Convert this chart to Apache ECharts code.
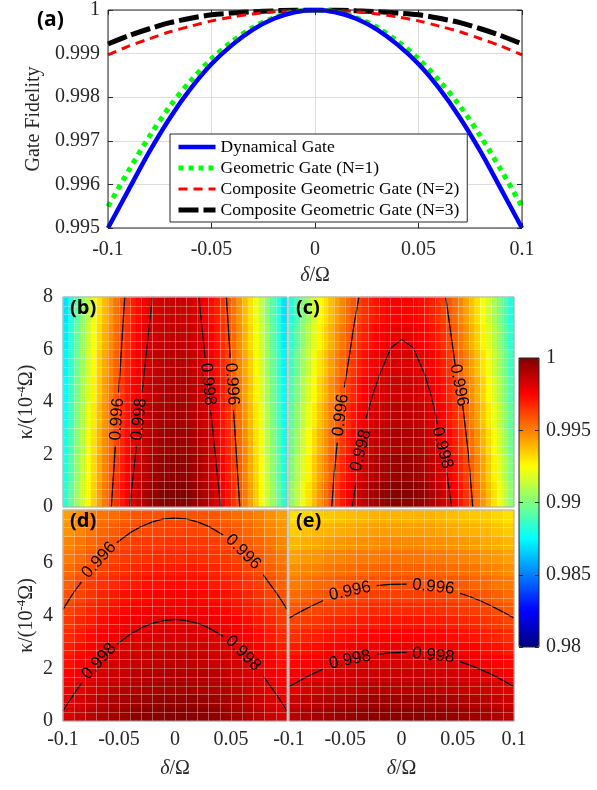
<!DOCTYPE html>
<html>
<head>
<meta charset="utf-8">
<script src="https://cdn.jsdelivr.net/npm/echarts@6/dist/echarts.min.js"></script>
<style>
  html, body { margin: 0; padding: 0; background: #fff; }
  #main { width: 597px; height: 790px; }
</style>
</head>
<body>
<div id="main"></div>
<script>
var SERIF = '"Liberation Serif", "Times New Roman", serif';
var INK = '#262626';

// ---- panel (a): gate fidelity vs detuning ----
var deltaA = [-0.1, -0.09, -0.08, -0.07, -0.06, -0.05, -0.04, -0.03, -0.02, -0.01, 0,
              0.01, 0.02, 0.03, 0.04, 0.05, 0.06, 0.07, 0.08, 0.09, 0.1];
var fidDynamical = [0.995, 0.99588, 0.99675, 0.99753, 0.9982, 0.99876, 0.9992, 0.99955, 0.9998, 0.99995, 1,
                    0.99995, 0.9998, 0.99955, 0.9992, 0.99876, 0.9982, 0.99753, 0.99675, 0.99588, 0.995];
var fidGeometric = [0.99549, 0.99632, 0.9971, 0.9978, 0.99838, 0.99888, 0.99928, 0.9996, 0.99982, 0.99996, 1,
                    0.99996, 0.99982, 0.9996, 0.99928, 0.99888, 0.99838, 0.9978, 0.9971, 0.99632, 0.99549];
var fidComposite2 = [0.99897, 0.99917, 0.99934, 0.9995, 0.99963, 0.99975, 0.99984, 0.99991, 0.99996, 0.99999, 1,
                     0.99999, 0.99996, 0.99991, 0.99984, 0.99975, 0.99963, 0.9995, 0.99934, 0.99917, 0.99897];
var fidComposite3 = [0.99922, 0.99941, 0.99957, 0.99971, 0.99981, 0.99989, 0.99993, 0.99996, 0.99998, 1, 1,
                     1, 0.99998, 0.99996, 0.99993, 0.99989, 0.99981, 0.99971, 0.99957, 0.99941, 0.99922];
var seriesNames = ['Dynamical Gate', 'Geometric Gate (N=1)',
                   'Composite Geometric Gate (N=2)', 'Composite Geometric Gate (N=3)'];

// ---- panels (b)-(e): fidelity maps over (delta, kappa) ----
var deltaFine = [-0.0975, -0.0925, -0.0875, -0.0825, -0.0775, -0.0725, -0.0675, -0.0625, -0.0575, -0.0525,
                 -0.0475, -0.0425, -0.0375, -0.0325, -0.0275, -0.0225, -0.0175, -0.0125, -0.0075, -0.0025,
                 0.0025, 0.0075, 0.0125, 0.0175, 0.0225, 0.0275, 0.0325, 0.0375, 0.0425, 0.0475,
                 0.0525, 0.0575, 0.0625, 0.0675, 0.0725, 0.0775, 0.0825, 0.0875, 0.0925, 0.0975];
var deltaCells = [-0.095, -0.085, -0.075, -0.065, -0.055, -0.045, -0.035, -0.025, -0.015, -0.005,
                  0.005, 0.015, 0.025, 0.035, 0.045, 0.055, 0.065, 0.075, 0.085, 0.095];
var kappaCoarse = [0.5, 1.5, 2.5, 3.5, 4.5, 5.5, 6.5, 7.5];
var kappaFine = [0.25, 0.75, 1.25, 1.75, 2.25, 2.75, 3.25, 3.75, 4.25, 4.75, 5.25, 5.75, 6.25, 6.75, 7.25, 7.75];

// maps are symmetric in delta: each row lists delta >= 0 only (b, c: 0.0025 ... 0.0975; d, e: 0.005 ... 0.095)
var fieldB = [
  [0.9999, 0.99984, 0.99972, 0.99954, 0.99929, 0.99898, 0.99862, 0.99819, 0.9977, 0.99715, 0.99654, 0.99587, 0.99513, 0.99434, 0.99348, 0.99256, 0.99159, 0.99055, 0.98945, 0.98828],
  [0.99971, 0.99965, 0.99953, 0.99935, 0.9991, 0.99879, 0.99843, 0.998, 0.99751, 0.99696, 0.99635, 0.99568, 0.99494, 0.99415, 0.99329, 0.99237, 0.9914, 0.99036, 0.98926, 0.98809],
  [0.99953, 0.99947, 0.99935, 0.99917, 0.99892, 0.99861, 0.99825, 0.99782, 0.99733, 0.99678, 0.99617, 0.9955, 0.99476, 0.99397, 0.99311, 0.99219, 0.99122, 0.99018, 0.98908, 0.98791],
  [0.99934, 0.99928, 0.99916, 0.99898, 0.99873, 0.99842, 0.99806, 0.99763, 0.99714, 0.99659, 0.99598, 0.99531, 0.99457, 0.99378, 0.99292, 0.992, 0.99103, 0.98999, 0.98889, 0.98772],
  [0.99916, 0.9991, 0.99898, 0.9988, 0.99855, 0.99824, 0.99788, 0.99745, 0.99696, 0.99641, 0.9958, 0.99513, 0.99439, 0.9936, 0.99274, 0.99182, 0.99085, 0.98981, 0.98871, 0.98754],
  [0.99897, 0.99891, 0.99879, 0.99861, 0.99836, 0.99805, 0.99769, 0.99726, 0.99677, 0.99622, 0.99561, 0.99494, 0.9942, 0.99341, 0.99255, 0.99163, 0.99066, 0.98962, 0.98852, 0.98735],
  [0.99879, 0.99873, 0.99861, 0.99843, 0.99818, 0.99787, 0.99751, 0.99708, 0.99659, 0.99604, 0.99543, 0.99476, 0.99402, 0.99323, 0.99237, 0.99145, 0.99048, 0.98944, 0.98834, 0.98717],
  [0.9986, 0.99854, 0.99842, 0.99824, 0.99799, 0.99768, 0.99732, 0.99689, 0.9964, 0.99585, 0.99524, 0.99457, 0.99383, 0.99304, 0.99218, 0.99126, 0.99029, 0.98925, 0.98815, 0.98698]
];
var fieldC = [
  [0.99983, 0.99978, 0.99968, 0.99953, 0.99933, 0.99908, 0.99878, 0.99843, 0.99803, 0.99758, 0.99708, 0.99653, 0.99593, 0.99528, 0.99458, 0.99383, 0.99303, 0.99218, 0.99128, 0.99033],
  [0.99952, 0.99947, 0.99937, 0.99922, 0.99902, 0.99877, 0.99847, 0.99812, 0.99772, 0.99727, 0.99677, 0.99622, 0.99562, 0.99497, 0.99427, 0.99352, 0.99272, 0.99187, 0.99097, 0.99002],
  [0.9992, 0.99915, 0.99905, 0.9989, 0.9987, 0.99845, 0.99815, 0.9978, 0.9974, 0.99695, 0.99645, 0.9959, 0.9953, 0.99465, 0.99395, 0.9932, 0.9924, 0.99155, 0.99065, 0.9897],
  [0.99889, 0.99884, 0.99874, 0.99859, 0.99839, 0.99814, 0.99784, 0.99749, 0.99709, 0.99664, 0.99614, 0.99559, 0.99499, 0.99434, 0.99364, 0.99289, 0.99209, 0.99124, 0.99034, 0.98939],
  [0.99857, 0.99852, 0.99842, 0.99827, 0.99807, 0.99782, 0.99752, 0.99717, 0.99677, 0.99632, 0.99582, 0.99527, 0.99467, 0.99402, 0.99332, 0.99257, 0.99177, 0.99092, 0.99002, 0.98907],
  [0.99826, 0.99821, 0.99811, 0.99796, 0.99776, 0.99751, 0.99721, 0.99686, 0.99646, 0.99601, 0.99551, 0.99496, 0.99436, 0.99371, 0.99301, 0.99226, 0.99146, 0.99061, 0.98971, 0.98876],
  [0.99794, 0.99789, 0.99779, 0.99764, 0.99744, 0.99719, 0.99689, 0.99654, 0.99614, 0.99569, 0.99519, 0.99464, 0.99404, 0.99339, 0.99269, 0.99194, 0.99114, 0.99029, 0.98939, 0.98844],
  [0.99763, 0.99758, 0.99748, 0.99733, 0.99713, 0.99688, 0.99658, 0.99623, 0.99583, 0.99538, 0.99488, 0.99433, 0.99373, 0.99308, 0.99238, 0.99163, 0.99083, 0.98998, 0.98908, 0.98813]
];
var fieldD = [
  [0.9999, 0.9998, 0.9998, 0.9997, 0.9995, 0.9993, 0.9991, 0.9989, 0.9986, 0.9983],
  [0.9996, 0.9996, 0.9995, 0.9994, 0.9992, 0.9991, 0.9989, 0.9986, 0.9983, 0.9980],
  [0.9993, 0.9993, 0.9992, 0.9991, 0.9990, 0.9988, 0.9986, 0.9983, 0.9980, 0.9977],
  [0.9991, 0.9990, 0.9990, 0.9989, 0.9987, 0.9985, 0.9983, 0.9981, 0.9978, 0.9975],
  [0.9988, 0.9988, 0.9987, 0.9986, 0.9985, 0.9983, 0.9981, 0.9978, 0.9975, 0.9972],
  [0.9986, 0.9985, 0.9985, 0.9983, 0.9982, 0.9980, 0.9978, 0.9976, 0.9973, 0.9970],
  [0.9983, 0.9983, 0.9982, 0.9981, 0.9980, 0.9978, 0.9976, 0.9973, 0.9970, 0.9967],
  [0.9980, 0.9980, 0.9979, 0.9978, 0.9977, 0.9975, 0.9973, 0.9970, 0.9968, 0.9964],
  [0.9978, 0.9978, 0.9977, 0.9976, 0.9974, 0.9972, 0.9970, 0.9968, 0.9965, 0.9962],
  [0.9975, 0.9975, 0.9974, 0.9973, 0.9972, 0.9970, 0.9968, 0.9965, 0.9962, 0.9959],
  [0.9973, 0.9972, 0.9972, 0.9970, 0.9969, 0.9967, 0.9965, 0.9963, 0.9960, 0.9956],
  [0.9970, 0.9970, 0.9969, 0.9968, 0.9966, 0.9965, 0.9962, 0.9960, 0.9957, 0.9954],
  [0.9967, 0.9967, 0.9966, 0.9965, 0.9964, 0.9962, 0.9960, 0.9957, 0.9954, 0.9951],
  [0.9965, 0.9964, 0.9964, 0.9963, 0.9961, 0.9959, 0.9957, 0.9955, 0.9952, 0.9949],
  [0.9962, 0.9962, 0.9961, 0.9960, 0.9959, 0.9957, 0.9955, 0.9952, 0.9949, 0.9946],
  [0.9960, 0.9959, 0.9959, 0.9958, 0.9956, 0.9954, 0.9952, 0.9950, 0.9947, 0.9944]
];
var fieldE = [
  [0.9998, 0.9998, 0.9997, 0.9997, 0.9996, 0.9995, 0.9994, 0.9993, 0.9991, 0.9989],
  [0.9994, 0.9994, 0.9994, 0.9993, 0.9992, 0.9991, 0.9990, 0.9989, 0.9987, 0.9985],
  [0.9990, 0.9990, 0.9990, 0.9989, 0.9988, 0.9987, 0.9986, 0.9985, 0.9983, 0.9981],
  [0.9986, 0.9986, 0.9986, 0.9985, 0.9984, 0.9983, 0.9982, 0.9981, 0.9979, 0.9977],
  [0.9983, 0.9982, 0.9982, 0.9981, 0.9981, 0.9980, 0.9978, 0.9977, 0.9975, 0.9974],
  [0.9979, 0.9979, 0.9978, 0.9978, 0.9977, 0.9976, 0.9975, 0.9973, 0.9972, 0.9970],
  [0.9975, 0.9975, 0.9974, 0.9974, 0.9973, 0.9972, 0.9971, 0.9969, 0.9968, 0.9966],
  [0.9971, 0.9971, 0.9970, 0.9970, 0.9969, 0.9968, 0.9967, 0.9965, 0.9964, 0.9962],
  [0.9967, 0.9967, 0.9967, 0.9966, 0.9965, 0.9964, 0.9963, 0.9962, 0.9960, 0.9958],
  [0.9963, 0.9963, 0.9963, 0.9962, 0.9961, 0.9960, 0.9959, 0.9958, 0.9956, 0.9954],
  [0.9960, 0.9959, 0.9959, 0.9958, 0.9958, 0.9957, 0.9955, 0.9954, 0.9952, 0.9951],
  [0.9956, 0.9956, 0.9955, 0.9955, 0.9954, 0.9953, 0.9952, 0.9950, 0.9949, 0.9947],
  [0.9952, 0.9952, 0.9951, 0.9951, 0.9950, 0.9949, 0.9948, 0.9946, 0.9945, 0.9943],
  [0.9948, 0.9948, 0.9947, 0.9947, 0.9946, 0.9945, 0.9944, 0.9942, 0.9941, 0.9939],
  [0.9944, 0.9944, 0.9944, 0.9943, 0.9942, 0.9941, 0.9940, 0.9939, 0.9937, 0.9935],
  [0.9940, 0.9940, 0.9940, 0.9939, 0.9938, 0.9937, 0.9936, 0.9935, 0.9933, 0.9931]
];

// contour lines [delta, kappa], broken where the level label sits
var contourB = [
  { level: '0.996', segs: [[[-0.0568, 0], [-0.0533, 2.32]], [[-0.0503, 4.36], [-0.0449, 8]]], at: [-0.0518, 3.34], rot: 86 },
  { level: '0.998', segs: [[[-0.0404, 0], [-0.0345, 2.32]], [[-0.0294, 4.36], [-0.0202, 8]]], at: [-0.0320, 3.34], rot: 84 },
  { level: '0.998', segs: [[[0.0408, 0], [0.0318, 3.68]], [[0.0269, 5.68], [0.0212, 8]]], at: [0.0293, 4.68], rot: -84 },
  { level: '0.996', segs: [[[0.0578, 0], [0.0523, 3.68]], [[0.0493, 5.68], [0.0459, 8]]], at: [0.0508, 4.68], rot: -86 }
];
var contourC = [
  { level: '0.996', segs: [[[-0.0620, 0], [-0.0600, 1.2], [-0.0571, 2.45]],
                           [[-0.0508, 4.56], [-0.0462, 5.8], [-0.0420, 7], [-0.0378, 8]]], at: [-0.0540, 3.5], rot: 83 },
  { level: '0.996', segs: [[[0.0633, 0], [0.0595, 2], [0.0544, 3.87]],
                           [[0.0477, 5.4], [0.0436, 6.7], [0.0393, 8]]], at: [0.0510, 4.64], rot: -79 },
  { level: '0.998', segs: [[[-0.0437, 0], [-0.0404, 0.95]],
                           [[-0.0316, 3.37], [-0.0250, 4.35], [-0.0191, 5.08], [-0.0140, 5.6], [-0.0093, 6.07], [0.0002, 6.38],
                            [0.0105, 6.07], [0.0150, 5.6], [0.0203, 5.08], [0.0260, 4.3], [0.0298, 3.62], [0.0318, 3.15]],
                           [[0.0402, 1.33], [0.0446, 0]]], at: [-0.0362, 2.15], rot: 76 },
  { level: '0.998', segs: [], at: [0.0362, 2.25], rot: -75 }
];
var contourD = [
  { level: '0.996', segs: [[[-0.1, 4.23], [-0.095, 4.57], [-0.09, 4.9], [-0.0836, 5.27]],
                           [[-0.052, 6.76], [-0.04, 7.14], [-0.03, 7.38], [-0.02, 7.55], [-0.01, 7.66], [0, 7.69],
                            [0.01, 7.66], [0.02, 7.55], [0.03, 7.38], [0.043, 7.05]],
                           [[0.0786, 5.55], [0.09, 4.89], [0.095, 4.57], [0.1, 4.23]]], at: [-0.0678, 6.10], rot: 48 },
  { level: '0.996', segs: [], at: [0.0608, 6.41], rot: -45 },
  { level: '0.998', segs: [[[-0.1, 0.38], [-0.095, 0.72], [-0.09, 1.04], [-0.0836, 1.43]],
                           [[-0.052, 2.91], [-0.04, 3.29], [-0.03, 3.53], [-0.02, 3.71], [-0.01, 3.81], [0, 3.85],
                            [0.01, 3.81], [0.02, 3.71], [0.03, 3.53], [0.043, 3.21]],
                           [[0.0786, 1.71], [0.09, 1.04], [0.095, 0.72], [0.1, 0.38]]], at: [-0.0678, 2.26], rot: 48 },
  { level: '0.998', segs: [], at: [0.0608, 2.57], rot: -45 }
];
var contourE = [
  { level: '0.996', segs: [[[-0.1, 3.9], [-0.09, 4.14], [-0.08, 4.36], [-0.0695, 4.57]],
                           [[-0.022, 5.13], [-0.01, 5.18], [0.0046, 5.19]],
                           [[0.052, 4.84], [0.06, 4.73], [0.07, 4.56], [0.08, 4.36], [0.09, 4.14], [0.1, 3.9]]], at: [-0.0458, 4.92], rot: 12 },
  { level: '0.996', segs: [], at: [0.0283, 5.09], rot: -6 },
  { level: '0.998', segs: [[[-0.1, 1.30], [-0.09, 1.54], [-0.08, 1.77], [-0.0695, 1.97]],
                           [[-0.022, 2.53], [-0.01, 2.58], [0.0046, 2.60]],
                           [[0.052, 2.25], [0.06, 2.13], [0.07, 1.96], [0.08, 1.77], [0.09, 1.54], [0.1, 1.30]]], at: [-0.0458, 2.32], rot: 12 },
  { level: '0.998', segs: [], at: [0.0283, 2.49], rot: -6 }
];

var jet = ['#00007f', '#0000ff', '#007fff', '#00ffff', '#7fff7f', '#ffff00', '#ff7f00', '#ff0000', '#7f0000'];

function pairs(xs, ys) {
  return xs.map(function (x, i) { return [x, ys[i]]; });
}

function fieldData(half) {
  var out = [];
  half.forEach(function (row, j) {
    var full = row.slice().reverse().concat(row);
    full.forEach(function (v, i) { out.push([i, j, v]); });
  });
  return out;
}

var tickText = { fontFamily: SERIF, fontSize: 20, color: INK };
var kappaName = {
  rich: {
    n: { fontFamily: SERIF, fontSize: 20, color: INK, lineHeight: 24 },
    s: { fontFamily: SERIF, fontSize: 13, color: INK, lineHeight: 24, verticalAlign: 'top' }
  }
};
var deltaName = {
  rich: {
    i: { fontFamily: SERIF, fontSize: 20, color: INK, fontStyle: 'italic' },
    n: { fontFamily: SERIF, fontSize: 20, color: INK }
  }
};
var inTick = { inside: true, length: 5, lineStyle: { color: INK } };
var noLine = { show: false, onZero: false };

var grids = [
  { left: 108, top: 10, width: 414, height: 218, show: true, borderColor: INK, borderWidth: 1, z: 10 },
  { left: 63, top: 297, width: 224, height: 210 },
  { left: 289, top: 297, width: 225, height: 210 },
  { left: 63, top: 510, width: 224, height: 211 },
  { left: 289, top: 510, width: 225, height: 211 },
  { left: 519, top: 358, width: 20, height: 289, show: true, borderColor: INK, borderWidth: 1, z: 10 }
];
for (var g = 1; g <= 4; g++) {
  grids[g].show = true;
  grids[g].borderColor = '#a8a8a8';
  grids[g].borderWidth = 1;
  grids[g].z = 10;
}

var xAxes = [
  { gridIndex: 0, type: 'value', position: 'bottom', min: -0.1, max: 0.1, interval: 0.05,
    axisLine: noLine, axisTick: inTick,
    axisLabel: Object.assign({ margin: 12 }, tickText),
    splitLine: { lineStyle: { color: '#dcdcdc' } },
    name: '{i|δ}{n|/Ω}', nameLocation: 'middle', nameGap: 38, nameTextStyle: deltaName },
  { gridIndex: 0, type: 'value', position: 'top', min: -0.1, max: 0.1, interval: 0.05,
    axisLine: noLine, axisTick: inTick, axisLabel: { show: false }, splitLine: { show: false } }
];
var yAxes = [
  { gridIndex: 0, type: 'value', position: 'left', min: 0.995, max: 1, interval: 0.001,
    axisLine: noLine, axisTick: inTick,
    axisLabel: Object.assign({ margin: 8 }, tickText),
    splitLine: { lineStyle: { color: '#dcdcdc' } },
    name: 'Gate Fidelity', nameLocation: 'middle', nameGap: 64,
    nameTextStyle: { fontFamily: SERIF, fontSize: 20, color: INK } },
  { gridIndex: 0, type: 'value', position: 'right', min: 0.995, max: 1, interval: 0.001,
    axisLine: noLine, axisTick: inTick, axisLabel: { show: false }, splitLine: { show: false } }
];

var panels = [
  { grid: 1, field: fieldB, cols: deltaFine, rows: kappaCoarse, contours: contourB, tag: '(b)', xLabels: false, yLabels: true },
  { grid: 2, field: fieldC, cols: deltaFine, rows: kappaCoarse, contours: contourC, tag: '(c)', xLabels: false, yLabels: false },
  { grid: 3, field: fieldD, cols: deltaCells, rows: kappaFine, contours: contourD, tag: '(d)', xLabels: true, yLabels: true, hideX: 0.1, hideY: 8 },
  { grid: 4, field: fieldE, cols: deltaCells, rows: kappaFine, contours: contourE, tag: '(e)', xLabels: true, yLabels: false }
];

var meshLine = { color: 'rgba(255,255,255,0.3)', width: 1 };
var series = [];
var heatIdx = [];

var lineStyles = [
  { color: '#0000ff', width: 4.5, type: 'solid' },
  { color: '#00ff00', width: 5, type: [5, 5] },
  { color: '#ff0000', width: 3, type: [9, 6] },
  { color: '#000000', width: 5, type: [20, 5] }
];
[fidDynamical, fidGeometric, fidComposite2, fidComposite3].forEach(function (ys, k) {
  series.push({
    name: seriesNames[k], type: 'line', xAxisIndex: 0, yAxisIndex: 0,
    data: pairs(deltaA, ys), symbol: 'none', smooth: 0.3, silent: true,
    lineStyle: lineStyles[k], itemStyle: { color: lineStyles[k].color }, z: 3 + (3 - k) * 0.1
  });
});

var graphics = [
  { type: 'text', left: 37, top: 10, z: 100, style: { text: '(a)', font: 'bold 21px "Open Sans", sans-serif', fill: '#000' } }
];

panels.forEach(function (p) {
  var cx = xAxes.length, cy = yAxes.length;
  xAxes.push({ gridIndex: p.grid, type: 'category', position: 'top', data: p.cols, show: false });
  yAxes.push({ gridIndex: p.grid, type: 'category', position: 'right', data: p.rows, show: false });
  var vx = xAxes.length, vy = yAxes.length;
  p.vx = vx; p.vy = vy;
  xAxes.push({
    gridIndex: p.grid, type: 'value', position: 'bottom', min: -0.1, max: 0.1, interval: 0.05, z: 5,
    axisLine: noLine, axisTick: { show: false },
    axisLabel: Object.assign({
      show: p.xLabels, margin: 9,
      formatter: function (v) { return (p.hideX !== undefined && Math.abs(v - p.hideX) < 1e-9) ? '' : String(v); }
    }, tickText),
    splitLine: { show: true, lineStyle: meshLine },
    minorTick: { show: false, splitNumber: 5 },
    minorSplitLine: { show: true, lineStyle: meshLine },
    name: p.xLabels ? '{i|δ}{n|/Ω}' : '', nameLocation: 'middle', nameGap: 38, nameTextStyle: deltaName
  });
  yAxes.push({
    gridIndex: p.grid, type: 'value', position: 'left', min: 0, max: 8, interval: 2, z: 5,
    axisLine: noLine, axisTick: { show: false },
    axisLabel: Object.assign({
      show: p.yLabels, margin: 10,
      formatter: function (v) { return (p.hideY !== undefined && v === p.hideY) ? '' : String(v); }
    }, tickText),
    splitLine: { show: true, lineStyle: meshLine },
    minorTick: { show: false, splitNumber: 6 },
    minorSplitLine: { show: true, lineStyle: meshLine },
    name: p.yLabels ? '{n|κ/(10}{s|-4}{n|Ω)}' : '', nameLocation: 'middle', nameGap: 24, nameTextStyle: kappaName
  });

  heatIdx.push(series.length);
  series.push({
    type: 'heatmap', xAxisIndex: cx, yAxisIndex: cy, data: fieldData(p.field),
    progressive: 0, silent: true, emphasis: { disabled: true }, itemStyle: { borderWidth: 0 }, z: 2
  });

  p.contours.forEach(function (c) {
    c.segs.forEach(function (seg) {
      series.push({
        type: 'line', xAxisIndex: vx, yAxisIndex: vy, data: seg, symbol: 'none', silent: true,
        lineStyle: { color: '#000', width: 1.3 }, z: 4
      });
    });
  });

  var gr = grids[p.grid];
  graphics.push({ type: 'text', left: gr.left + 7, top: gr.top + 1, z: 100,
    style: { text: p.tag, font: 'bold 20px "Open Sans", sans-serif', fill: '#000' } });
});

// colour bar axes
xAxes.push({ gridIndex: 5, type: 'value', min: 0, max: 1, show: false });
yAxes.push({
  gridIndex: 5, type: 'value', position: 'right', min: 0.98, max: 1, interval: 0.005, z: 12,
  axisLine: noLine, axisTick: { inside: true, length: 4, lineStyle: { color: INK } },
  axisLabel: Object.assign({ margin: 7, formatter: function (v) { return String(v); } }, tickText),
  splitLine: { show: false }
});
yAxes.push({
  gridIndex: 5, type: 'value', position: 'left', min: 0.98, max: 1, interval: 0.005, z: 12,
  axisLine: noLine, axisTick: { inside: true, length: 4, lineStyle: { color: INK } },
  axisLabel: { show: false }, splitLine: { show: false }
});

var option = {
  animation: false,
  backgroundColor: '#fff',
  grid: grids,
  xAxis: xAxes,
  yAxis: yAxes,
  legend: {
    orient: 'vertical', left: 170, top: 134, itemWidth: 37, itemHeight: 12, itemGap: 1,
    padding: [3, 8, 2, 6], backgroundColor: '#fff', borderColor: INK, borderWidth: 1,
    selectedMode: false, data: seriesNames, z: 20,
    itemStyle: { opacity: 0 },
    lineStyle: { width: 'inherit' },
    textStyle: { fontFamily: SERIF, fontSize: 17.5, color: '#000', lineHeight: 20 }
  },
  visualMap: {
    type: 'continuous', min: 0.98, max: 1, dimension: 2, seriesIndex: heatIdx,
    left: 519, top: 358, itemWidth: 20, itemHeight: 289, padding: 0,
    calculable: false, hoverLink: false, showLabel: false, text: ['', ''],
    inRange: { color: jet }
  },
  graphic: graphics,
  series: series
};

var chart = echarts.init(document.getElementById('main'), null, { renderer: 'canvas' });
chart.setOption(option);

// contour level labels, placed through each panel's value axes
panels.forEach(function (p) {
  p.contours.forEach(function (c) {
    var pt = chart.convertToPixel({ xAxisIndex: p.vx, yAxisIndex: p.vy }, c.at);
    graphics.push({
      type: 'text', x: pt[0], y: pt[1], rotation: c.rot * Math.PI / 180, z: 100, silent: true,
      style: { text: c.level, x: 0, y: 0, align: 'center', verticalAlign: 'middle',
               font: '17px "Liberation Sans", Arial, sans-serif', fill: '#000' }
    });
  });
});
chart.setOption({ graphic: graphics });
</script>
</body>
</html>
